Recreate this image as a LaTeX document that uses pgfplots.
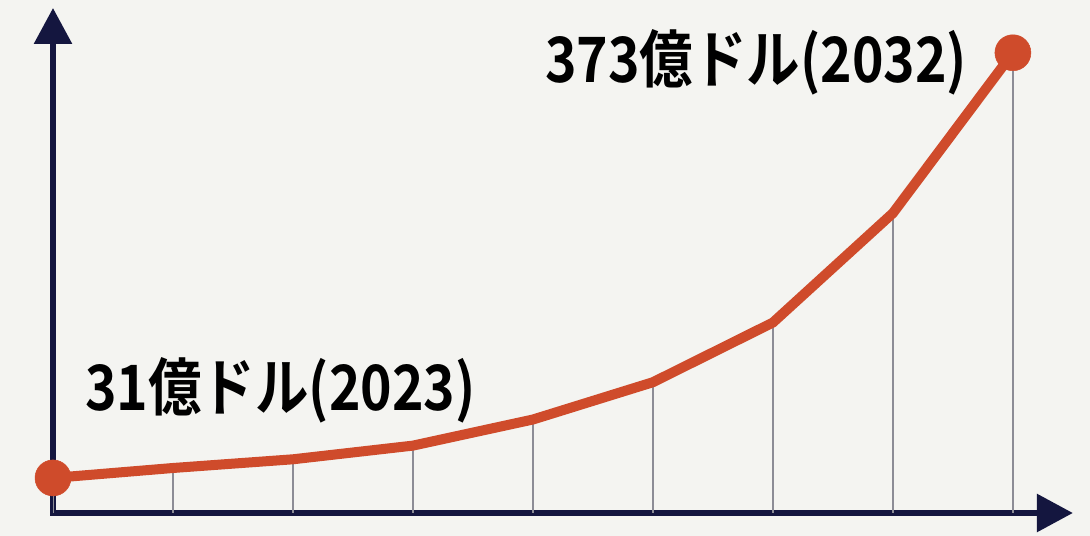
\documentclass[border=0pt]{standalone}
\usepackage{pgfplots}
\pgfplotsset{compat=1.18}
\usepackage{fontspec}
\usepackage{graphicx}
\usetikzlibrary{arrows.meta}
\newfontfamily\jp{Noto Sans CJK JP}[BoldFont={* Bold}]
\definecolor{bg}{HTML}{F4F4F1}
\definecolor{navy}{HTML}{14163F}
\definecolor{lred}{HTML}{CF4B2B}
\definecolor{gridc}{HTML}{8C8C96}
\pgfplotstableread{
x y
0 31
1 39
2 46
3 57
4 78
5 108
6 156
7 244
8 373
}\market
\begin{document}
\begin{tikzpicture}
\fill[bg] (0,0) rectangle (1090bp,536bp);
\useasboundingbox (0,0) rectangle (1090bp,536bp);
\begin{axis}[
  at={(53bp,23bp)}, anchor=south west,
  scale only axis, width=1020bp, height=505bp,
  xmin=0, xmax=8.5, ymin=2.8, ymax=409,
  axis lines=left,
  xtick=\empty, ytick=\empty,
  axis line style={navy, line width=6bp, line cap=rect},
  every outer x axis line/.append style={-{Triangle[length=36bp,width=37bp]}},
  every outer y axis line/.append style={-{Triangle[length=36bp,width=37bp]}},
  clip mode=individual,
]
\addplot[gridc, line width=2bp, ycomb, no markers] table[x=x,y=y] {\market};
\addplot[lred, line width=10bp, line join=round, mark=*, mark indices={1,9},
  mark size=18bp, mark options={solid, fill=lred, draw=lred, line width=0.5bp}]
  table[x=x,y=y] {\market};
\node[anchor=west, inner sep=0, font=\jp\bfseries\fontsize{53.5bp}{58bp}\selectfont]
  at (axis cs:0.267,101.8) {\scalebox{1}[1.17]{31億ドル(2023)}};
\node[anchor=west, inner sep=0, font=\jp\bfseries\fontsize{53.5bp}{58bp}\selectfont]
  at (axis cs:4.1,365.7) {\scalebox{1}[1.17]{373億ドル(2032)}};
\end{axis}
\end{tikzpicture}
\end{document}
